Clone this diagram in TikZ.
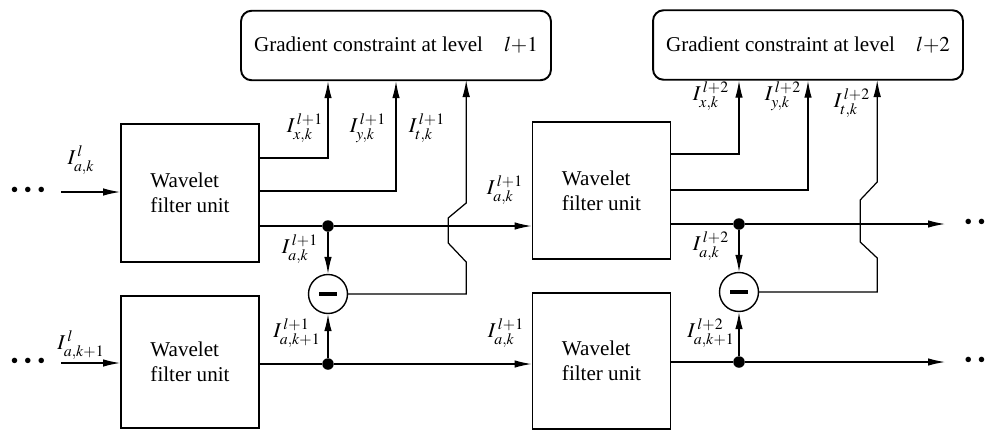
\documentclass[tikz,border=0pt]{standalone}
\usepackage{mathptmx}
\usepackage[no-math]{fontspec}
\setmainfont{Liberation Serif}
\usetikzlibrary{arrows.meta,positioning,calc}

\begin{document}
\begin{tikzpicture}[
    x=0.02cm, y=-0.02cm,
    font=\fontsize{12}{14}\selectfont,
    unit/.style={draw, line width=1.1pt, minimum width=2.76cm, align=left, inner sep=0pt},
    constraint/.style={draw, line width=1.1pt, rounded corners=6pt, minimum width=6.2cm, minimum height=1.39cm},
    sub/.style={circle, draw, line width=0.8pt, minimum size=0.78cm, inner sep=0pt,
      path picture={\draw[line width=2.6pt] ([xshift=-1.8mm]path picture bounding box.center) -- ([xshift=1.8mm]path picture bounding box.center);}},
    dot/.style={circle, fill, minimum size=0.23cm, inner sep=0pt},
    arrow/.style={-{Latex[length=3.4mm,width=1.5mm]}, line width=0.7pt},
    wire/.style={line width=0.7pt},
    sig/.style={inner sep=0pt},
    more/.style={inner sep=0pt, font=\fontsize{13}{13}\selectfont}
  ]
  \useasboundingbox (0,0) rectangle (992,430);

  % constraint blocks
  \node[constraint] (g1) at (396,45.5) {Gradient constraint at level\quad$l{+}1$};
  \node[constraint] (g2) at (808,45) {Gradient constraint at level\quad$l{+}2$};

  % filter units
  \node[unit, minimum height=2.76cm] (w1) at (190,193) {Wavelet\\filter unit};
  \node[unit, minimum height=2.64cm] (w2) at (190,362) {Wavelet\\filter unit};
  \node[unit, minimum height=2.74cm] (w3) at (601.5,190.5) {Wavelet\\filter unit};
  \node[unit, minimum height=2.72cm] (w4) at (601.5,361) {Wavelet\\filter unit};

  % branch points and subtractors
  \node[dot] (s1) at (328,226) {};
  \node[dot] (s2) at (328,364) {};
  \node[sub] (m1) at (328,294) {};
  \node[dot] (s3) at (739,224) {};
  \node[dot] (s4) at (739,362) {};
  \node[sub] (m2) at (739,292) {};

  % continuation marks
  \node[more] (d1) at (28,192) {\textbullet\hspace{3pt}\textbullet\hspace{3pt}\textbullet};
  \node[more] (d2) at (28,363) {\textbullet\hspace{3pt}\textbullet\hspace{3pt}\textbullet};
  \node[more, anchor=west] (d3) at (964,224) {\textbullet\hspace{3pt}\textbullet\hspace{3pt}\textbullet};
  \node[more, anchor=west] (d4) at (964,362) {\textbullet\hspace{3pt}\textbullet\hspace{3pt}\textbullet};
  \coordinate (in1) at (61,192);
  \coordinate (in2) at (61,363);
  \coordinate (out1) at (945,224);
  \coordinate (out2) at (945,362);

  % first stage
  \draw[arrow] (in1) -- (in1 -| w1.west);
  \draw[arrow] (in2) -- (in2 -| w2.west);
  \draw[wire] (w1.east |- s1) -- (s1);
  \draw[arrow] (s1) -- (s1 -| w3.west);
  \draw[wire] (w2.east |- s2) -- (s2);
  \draw[arrow] (s2) -- (s2 -| w4.west);
  \draw[arrow] (s1) -- (m1);
  \draw[arrow] (s2) -- (m1);
  \draw[arrow] ($(w1.north east)+(0,35)$) -| (s1 |- g1.south);
  \draw[arrow] ($(w1.north east)+(0,68)$) -| (g1.south);
  \draw[arrow] (m1.east) -| ++(118,-32) -- ++(-18,-19) -- ++(0,-25) -- ++(18,-15) -- ++(0,-123);

  % second stage
  \draw[wire] (w3.east |- s3) -- (s3);
  \draw[arrow] (s3) -- (out1);
  \draw[wire] (w4.east |- s4) -- (s4);
  \draw[arrow] (s4) -- (out2);
  \draw[arrow] (s3) -- (m2);
  \draw[arrow] (s4) -- (m2);
  \draw[arrow] ($(w3.north east)+(0,33)$) -| (s3 |- g2.south);
  \draw[arrow] ($(w3.north east)+(0,69)$) -| (g2.south);
  \draw[arrow] (m2.east) -| ++(118,-34) -- ++(-17,-16) -- ++(0,-42) -- ++(17,-18) -- ++(0,-102);

  % signal labels
  \node[sig] (la1) at (81,160) {$I^{\,l}_{a,k}$};
  \node[sig] (la2) at (81,345) {$I^{\,l}_{a,k+1}$};
  \node[sig] (lx1) at (305,128) {$I^{\,l+1}_{x,k}$};
  \node[sig] (ly1) at (368,128) {$I^{\,l+1}_{y,k}$};
  \node[sig] (lt1) at (427,128) {$I^{\,l+1}_{t,k}$};
  \node[sig] (lp1) at (300,249) {$I^{\,l+1}_{a,k}$};
  \node[sig] (lq1) at (297,333) {$I^{\,l+1}_{a,k+1}$};
  \node[sig] (lu1) at (505,190) {$I^{\,l+1}_{a,k}$};
  \node[sig] (lv1) at (506,333) {$I^{\,l+1}_{a,k}$};
  \node[sig] (lx2) at (711,96) {$I^{\,l+2}_{x,k}$};
  \node[sig] (ly2) at (783,96) {$I^{\,l+2}_{y,k}$};
  \node[sig] (lt2) at (852,103) {$I^{\,l+2}_{t,k}$};
  \node[sig] (lp2) at (711,246) {$I^{\,l+2}_{a,k}$};
  \node[sig] (lq2) at (711,333) {$I^{\,l+2}_{a,k+1}$};
\end{tikzpicture}
\end{document}
